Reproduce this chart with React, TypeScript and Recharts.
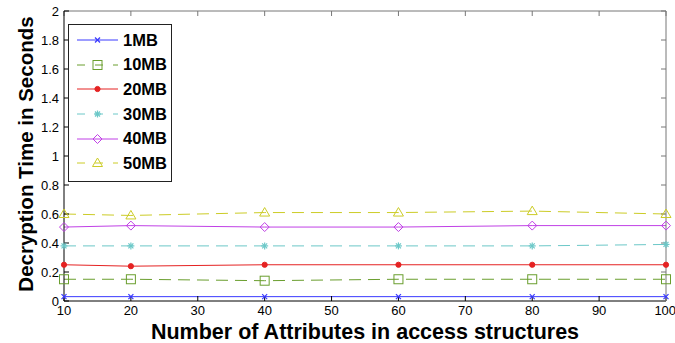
import { LineChart, Line, XAxis, YAxis, Label, Legend } from "recharts";

const attributes = [10, 20, 40, 60, 80, 100];
const mb1 = [0.03, 0.03, 0.03, 0.03, 0.03, 0.03];
const mb10 = [0.15, 0.15, 0.14, 0.15, 0.15, 0.15];
const mb20 = [0.25, 0.24, 0.25, 0.25, 0.25, 0.25];
const mb30 = [0.38, 0.38, 0.38, 0.38, 0.38, 0.39];
const mb40 = [0.51, 0.52, 0.51, 0.51, 0.52, 0.52];
const mb50 = [0.6, 0.59, 0.61, 0.61, 0.62, 0.6];

const xTicks = [10, 20, 30, 40, 50, 60, 70, 80, 90, 100];
const yTicks = [0, 0.2, 0.4, 0.6, 0.8, 1, 1.2, 1.4, 1.6, 1.8, 2];
const yTickLabels = ["0", "0.2", "0.4", "0.6", "0.8", "1", "1.2", "1.4", "1.6", "1.8", "2"];

const series = [
  { key: "mb1", name: "1MB", values: mb1, color: "#3a3aff", dashed: false, marker: "cross" },
  { key: "mb10", name: "10MB", values: mb10, color: "#6a9e2e", dashed: true, marker: "square" },
  { key: "mb20", name: "20MB", values: mb20, color: "#e52222", dashed: false, marker: "dot" },
  { key: "mb30", name: "30MB", values: mb30, color: "#6cc8c8", dashed: true, marker: "star" },
  { key: "mb40", name: "40MB", values: mb40, color: "#c040e6", dashed: false, marker: "diamond" },
  { key: "mb50", name: "50MB", values: mb50, color: "#cccc26", dashed: true, marker: "triangle" },
];

const data = attributes.map((a, i) => {
  const row: any = { attr: a };
  series.forEach((s) => (row[s.key] = s.values[i]));
  return row;
});

const font = "'Liberation Sans', Arial, Helvetica, sans-serif";
const DASH = "12 7";

function Marker({ cx, cy, shape, color }: any) {
  if (cx == null || cy == null) return null;
  switch (shape) {
    case "cross":
      return (
        <g stroke={color} strokeWidth={1.2}>
          <line x1={cx - 2.5} y1={cy - 2.5} x2={cx + 2.5} y2={cy + 2.5} />
          <line x1={cx - 2.5} y1={cy + 2.5} x2={cx + 2.5} y2={cy - 2.5} />
        </g>
      );
    case "square":
      return <rect x={cx - 4.5} y={cy - 4.5} width={9} height={9} fill="none" stroke={color} strokeWidth={1} />;
    case "dot":
      return <circle cx={cx} cy={cy} r={2.6} fill={color} stroke={color} />;
    case "star":
      return (
        <g stroke={color} strokeWidth={1.2}>
          <line x1={cx - 3.5} y1={cy} x2={cx + 3.5} y2={cy} />
          <line x1={cx} y1={cy - 3.5} x2={cx} y2={cy + 3.5} />
          <line x1={cx - 2.5} y1={cy - 2.5} x2={cx + 2.5} y2={cy + 2.5} />
          <line x1={cx - 2.5} y1={cy + 2.5} x2={cx + 2.5} y2={cy - 2.5} />
        </g>
      );
    case "diamond":
      return (
        <polygon
          points={`${cx},${cy - 4.5} ${cx + 4.5},${cy} ${cx},${cy + 4.5} ${cx - 4.5},${cy}`}
          fill="none"
          stroke={color}
          strokeWidth={1}
        />
      );
    case "triangle":
      return (
        <polygon
          points={`${cx},${cy - 5} ${cx + 5},${cy + 3.5} ${cx - 5},${cy + 3.5}`}
          fill="none"
          stroke={color}
          strokeWidth={1}
        />
      );
  }
  return null;
}

function LegendBox() {
  return (
    <div
      style={{
        border: "1px solid #222",
        background: "#fff",
        padding: "3px 0 5px 0",
        fontFamily: font,
        fontWeight: "bold",
        fontSize: 16.5,
        color: "#000",
      }}
    >
      {series.map((s) => (
        <div key={s.key} style={{ height: 24.6, display: "flex", alignItems: "center" }}>
          <svg width={54} height={14} style={{ display: "block" }}>
            <line
              x1={8}
              y1={7}
              x2={49}
              y2={7}
              stroke={s.color}
              strokeWidth={1}
              strokeDasharray={s.dashed ? "8 10" : undefined}
            />
            <Marker cx={28.5} cy={7} shape={s.marker} color={s.color} />
          </svg>
          <span>{s.name}</span>
        </div>
      ))}
    </div>
  );
}

export default function App() {
  return (
    <div style={{ position: "absolute", left: 0, top: 0, background: "#fff" }}>
      <LineChart width={675} height={343} data={data} margin={{ top: 10, right: 8, bottom: 0, left: 0 }}>
        <XAxis
          dataKey="attr"
          type="number"
          domain={[10, 100]}
          ticks={xTicks}
          height={42}
          tickSize={-5}
          tickMargin={10}
          stroke="#000"
          tick={{ fill: "#000", fontSize: 13, fontFamily: font }}
        >
          <Label
            content={({ viewBox }: any) => (
              <text
                x={viewBox.x + viewBox.width / 2}
                y={viewBox.y + 38}
                textAnchor="middle"
                fontFamily={font}
                fontWeight="bold"
                fontSize={21.5}
                fill="#000"
              >
                Number of Attributes in access structures
              </text>
            )}
          />
        </XAxis>
        <XAxis
          xAxisId="top"
          dataKey="attr"
          orientation="top"
          type="number"
          domain={[10, 100]}
          ticks={xTicks}
          height={1}
          tickSize={-5}
          stroke="#777"
          tickFormatter={() => ""}
        />
        <YAxis
          type="number"
          domain={[0, 2]}
          ticks={yTicks}
          width={64}
          tickSize={-5}
          tickMargin={10}
          stroke="#000"
          tickFormatter={(v: any, i: number) => yTickLabels[i] ?? String(v)}
          tick={{ fill: "#000", fontSize: 13, fontFamily: font }}
        >
          <Label
            content={({ viewBox }: any) => {
              const x = viewBox.x + 33;
              const y = viewBox.y + viewBox.height / 2 - 2;
              return (
                <text
                  x={x}
                  y={y}
                  transform={`rotate(-90, ${x}, ${y})`}
                  textAnchor="middle"
                  fontFamily={font}
                  fontWeight="bold"
                  fontSize={20.5}
                  fill="#000"
                >
                  Decryption Time in Seconds
                </text>
              );
            }}
          />
        </YAxis>
        <YAxis
          yAxisId="right"
          orientation="right"
          type="number"
          domain={[0, 2]}
          ticks={yTicks}
          width={1}
          tickSize={-5}
          stroke="#777"
          tickFormatter={() => ""}
        />
        <Legend
          layout="vertical"
          align="center"
          verticalAlign="middle"
          wrapperStyle={{ left: 68, top: 24, width: 104, height: "auto" }}
          content={LegendBox}
        />
        {series.map((s) => (
          <Line
            key={s.key}
            dataKey={s.key}
            name={s.name}
            stroke={s.color}
            strokeWidth={1}
            strokeDasharray={s.dashed ? DASH : undefined}
            isAnimationActive={false}
            dot={(p: any) => <Marker key={`${s.key}-${p.index}`} cx={p.cx} cy={p.cy} shape={s.marker} color={s.color} />}
            activeDot={false}
            type="linear"
          />
        ))}
        <Line
          xAxisId="top"
          yAxisId="right"
          dataKey="mb1"
          stroke="none"
          dot={false}
          activeDot={false}
          legendType="none"
          isAnimationActive={false}
        />
      </LineChart>
    </div>
  );
}
